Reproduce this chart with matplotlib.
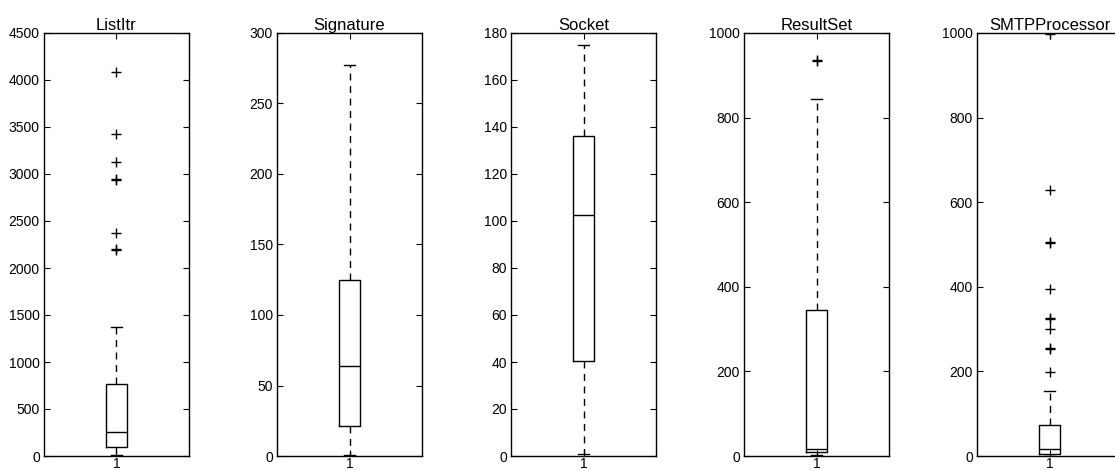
"""
Box plots of per-class metric values (ListItr, Signature, Socket, ResultSet, SMTPProcessor).
Writes out.png.
"""

import matplotlib
matplotlib.use("Agg")
import matplotlib.pyplot as plt
from matplotlib.ticker import MultipleLocator

# Box statistics.
CLASSES = ["ListItr", "Signature", "Socket", "ResultSet", "SMTPProcessor"]
WHIS_LO = [10, 1, 1, 2, 1]
Q1 = [95, 21, 40.5, 10, 4]
MEDIAN = [258, 64, 102.5, 16, 16]
Q3 = [770, 125, 136, 345, 73]
WHIS_HI = [1370, 277, 175, 845, 153]
FLIERS = [
    [4090, 3430, 3130, 2942, 2938, 2370, 2198, 2193],
    [],
    [],
    [935, 934],
    [998, 630, 506, 504, 395, 326, 324, 300, 256, 254, 198],
]
Y_MAX = [4500, 300, 180, 1000, 1000]
Y_STEP = [500, 50, 20, 200, 200]

plt.rcParams.update({
    "font.family": ["Liberation Sans", "DejaVu Sans"],
    "font.size": 10,
    "xtick.direction": "in", "ytick.direction": "in",
    "xtick.top": True, "ytick.right": True,
    "xtick.major.size": 4, "ytick.major.size": 4,
    "axes.linewidth": 1.0,
})

W, H = 1115, 470
fig = plt.figure(figsize=(W / 100, H / 100), dpi=100)

LEFTS = [44, 277, 511, 744, 977]
AX_W, AX_BOTTOM, AX_TOP = 145, 456, 33

for i, name in enumerate(CLASSES):
    ax = fig.add_axes([LEFTS[i] / W, (H - AX_BOTTOM) / H,
                       AX_W / W, (AX_BOTTOM - AX_TOP) / H])
    stats = [{
        "med": MEDIAN[i], "q1": Q1[i], "q3": Q3[i],
        "whislo": WHIS_LO[i], "whishi": WHIS_HI[i], "fliers": FLIERS[i],
    }]
    ax.bxp(stats, positions=[1], widths=0.15,
           boxprops=dict(color="black", lw=1.0),
           whiskerprops=dict(color="black", lw=1.0, ls=(0, (5, 4))),
           capprops=dict(color="black", lw=1.0),
           medianprops=dict(color="black", lw=1.0),
           flierprops=dict(marker="+", markeredgecolor="black",
                           markersize=7, markeredgewidth=1.0, linestyle="none"))
    ax.set_xlim(0.5, 1.5)
    ax.set_ylim(0, Y_MAX[i])
    ax.yaxis.set_major_locator(MultipleLocator(Y_STEP[i]))
    ax.set_xticks([1])
    ax.set_xticklabels(["1"])
    ax.tick_params(axis="x", pad=1)
    ax.tick_params(axis="y", pad=3)
    ax.set_title(name, fontsize=12, pad=2)

fig.savefig("out.png", dpi=100)
